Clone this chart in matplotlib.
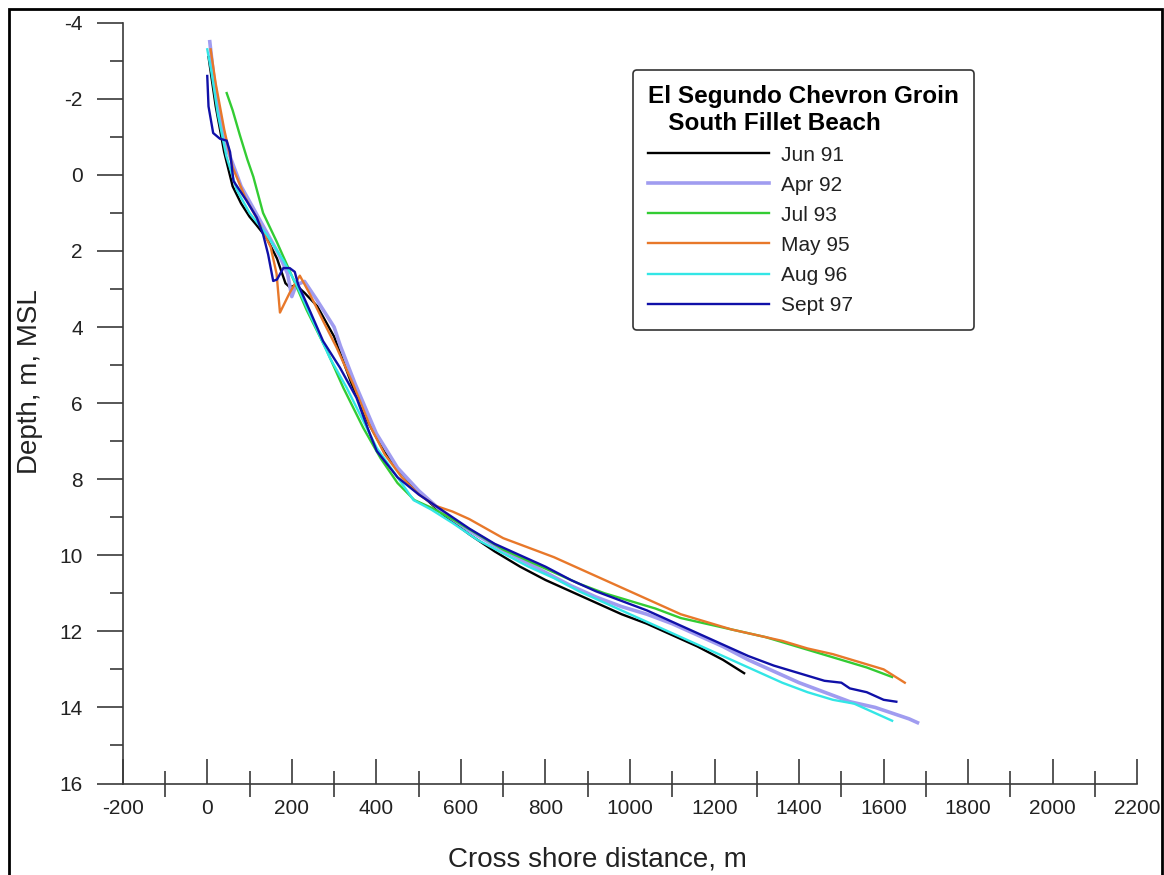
import numpy as np
import matplotlib
matplotlib.use("Agg")
import matplotlib.pyplot as plt
from matplotlib.patches import Rectangle
from matplotlib.ticker import MultipleLocator

plt.rcParams['font.family'] = ['Liberation Sans', 'DejaVu Sans']
plt.rcParams['axes.unicode_minus'] = False

# survey profiles: cross shore distance (m) and depth (m, MSL)
jun91_x = [3, 20, 40, 60, 80, 100, 115, 140, 165, 185, 195, 210, 230, 260, 300, 340, 380, 420, 460, 500,
           560, 620, 680, 740, 800, 860, 920, 980, 1040, 1100, 1160, 1220, 1270]
jun91_y = [-3.1, -1.8, -0.6, 0.3, 0.75, 1.1, 1.3, 1.65, 2.2, 2.85, 2.95, 2.9, 3.1, 3.45, 4.25, 5.45, 6.5, 7.3, 7.85, 8.35,
           8.95, 9.45, 9.9, 10.3, 10.65, 10.95, 11.25, 11.55, 11.8, 12.1, 12.4, 12.75, 13.1]

apr92_x = [6, 15, 30, 50, 80, 110, 140, 170, 190, 200, 210, 230, 260, 300, 315, 350, 400, 450, 500, 560,
           620, 680, 740, 800, 860, 920, 980, 1040, 1100, 1160, 1220, 1280, 1340, 1400, 1460, 1520, 1580,
           1620, 1660, 1680]
apr92_y = [-3.5, -2.6, -1.5, -0.6, 0.3, 0.9, 1.5, 2.1, 2.6, 3.2, 2.9, 2.8, 3.3, 4.0, 4.5, 5.5, 6.8, 7.7, 8.3, 8.9,
           9.35, 9.75, 10.1, 10.45, 10.8, 11.1, 11.35, 11.55, 11.8, 12.1, 12.4, 12.75, 13.05, 13.35, 13.6, 13.85, 14.0,
           14.15, 14.3, 14.4]

jul93_x = [46, 60, 77, 95, 109, 132, 164, 200, 235, 282, 322, 369, 410, 450, 490, 530, 580, 640, 700, 760,
           820, 880, 940, 1000, 1060, 1120, 1160, 1200, 1260, 1320, 1380, 1440, 1500, 1560, 1620]
jul93_y = [-2.15, -1.7, -1.05, -0.4, 0.05, 1.0, 1.75, 2.65, 3.55, 4.6, 5.6, 6.65, 7.45, 8.1, 8.55, 8.75, 9.05, 9.45, 9.85, 10.15,
           10.45, 10.75, 11.0, 11.2, 11.4, 11.65, 11.75, 11.85, 12.0, 12.15, 12.35, 12.55, 12.75, 12.95, 13.2]

may95_x = [8, 20, 40, 60, 90, 120, 150, 164, 172, 195, 219, 243, 274, 306, 345, 385, 420, 460, 500, 540,
           580, 620, 660, 700, 760, 820, 880, 940, 1000, 1060, 1120, 1180, 1240, 1300, 1360, 1420, 1480, 1540,
           1600, 1650]
may95_y = [-3.3, -2.4, -1.2, -0.2, 0.6, 1.2, 1.9, 2.6, 3.62, 3.1, 2.65, 3.14, 3.84, 4.54, 5.5, 6.6, 7.35, 7.95, 8.4, 8.7,
           8.85, 9.05, 9.3, 9.55, 9.8, 10.05, 10.35, 10.65, 10.95, 11.25, 11.55, 11.75, 11.95, 12.1, 12.25, 12.45, 12.6, 12.8,
           13.0, 13.35]

aug96_x = [0, 10, 25, 45, 70, 100, 140, 180, 211, 243, 290, 330, 369, 401, 450, 488, 530, 580, 640, 700,
           760, 820, 880, 940, 1000, 1060, 1120, 1180, 1240, 1300, 1360, 1420, 1480, 1530, 1580, 1620]
aug96_y = [-3.3, -2.7, -1.6, -0.5, 0.4, 1.0, 1.56, 2.25, 2.88, 3.67, 4.81, 5.6, 6.47, 7.18, 7.95, 8.55, 8.8, 9.15, 9.6, 9.95,
           10.3, 10.6, 10.95, 11.25, 11.55, 11.85, 12.15, 12.45, 12.75, 13.05, 13.35, 13.6, 13.8, 13.9, 14.15, 14.35]

sep97_x = [0, 3, 14, 30, 46, 54, 62, 93, 117, 132, 144, 156, 165, 180, 195, 207, 215, 243, 274, 314,
           353, 385, 401, 450, 500, 560, 620, 680, 740, 800, 860, 920, 980, 1040, 1100, 1160, 1220, 1280,
           1340, 1400, 1460, 1500, 1520, 1560, 1600, 1630]
sep97_y = [-2.6, -1.8, -1.1, -0.95, -0.9, -0.6, 0.16, 0.68, 1.12, 1.56, 2.09, 2.79, 2.75, 2.45, 2.45, 2.55, 2.88, 3.58, 4.37, 5.07,
           5.86, 6.82, 7.26, 7.95, 8.4, 8.85, 9.3, 9.7, 10.0, 10.3, 10.65, 10.95, 11.2, 11.45, 11.75, 12.05, 12.35, 12.65,
           12.9, 13.1, 13.3, 13.35, 13.5, 13.6, 13.8, 13.85]

labels = ['Jun 91', 'Apr 92', 'Jul 93', 'May 95', 'Aug 96', 'Sept 97']
colors = ['#000000', '#a09cf0', '#33cc33', '#e8782a', '#33e6e6', '#1010a8']
widths = [1.7, 2.6, 1.7, 1.7, 1.7, 1.7]
xs = [jun91_x, apr92_x, jul93_x, may95_x, aug96_x, sep97_x]
ys = [jun91_y, apr92_y, jul93_y, may95_y, aug96_y, sep97_y]
draw_order = [1, 4, 2, 3, 0, 5]

W, H = 1164, 875
fig = plt.figure(figsize=(W / 100, H / 100), dpi=100)
ax = fig.add_axes([122.7 / W, 1 - 783.5 / H, (1137.3 - 122.7) / W, (783.5 - 22.7) / H])

handles = [None] * 6
for i in draw_order:
    ln, = ax.plot(xs[i], ys[i], color=colors[i], lw=widths[i], label=labels[i], zorder=2 + i * 0.1)
    handles[i] = ln

ax.set_xlim(-200, 2200)
ax.set_ylim(16, -4)
ax.xaxis.set_major_locator(MultipleLocator(200))
ax.xaxis.set_minor_locator(MultipleLocator(100))
ax.yaxis.set_major_locator(MultipleLocator(2))
ax.yaxis.set_minor_locator(MultipleLocator(1))

axc = '#3a3a3a'
for s in ['top', 'right']:
    ax.spines[s].set_visible(False)
for s in ['left', 'bottom']:
    ax.spines[s].set_color(axc)
    ax.spines[s].set_linewidth(1.2)

ax.tick_params(axis='y', which='major', direction='out', length=18.7, width=1.2, color=axc,
               labelsize=15, pad=10, labelcolor='#222222')
ax.tick_params(axis='y', which='minor', direction='out', length=9.4, width=1.2, color=axc)
ax.tick_params(axis='x', which='major', direction='in', length=18, width=1.2, color=axc,
               labelsize=15, pad=11, labelcolor='#222222')
ax.tick_params(axis='x', which='minor', direction='inout', length=18.7, width=1.2, color=axc)

fig.text(597 / W, 1 - 860 / H, 'Cross shore distance, m', fontsize=20, ha='center', va='center', color='#222222')
fig.text(30 / W, 1 - 382 / H, 'Depth, m, MSL', fontsize=20, rotation=90, ha='center', va='center', color='#222222')

leg = ax.legend(handles, labels, loc='upper left', bbox_to_anchor=(633 / W, 1 - 70 / H),
                bbox_transform=fig.transFigure, borderaxespad=0,
                title='El Segundo Chevron Groin\n   South Fillet Beach',
                title_fontproperties={'weight': 'bold', 'size': 17.5},
                fontsize=15, handlelength=5.8, handletextpad=0.6, labelspacing=0.53,
                borderpad=0.72, fancybox=True, framealpha=1, edgecolor='#333333', alignment='left')
leg.get_frame().set_linewidth(1.2)
for t in leg.get_texts():
    t.set_color('#222222')

fig.add_artist(Rectangle((8.5 / W, -0.05), (1162 - 8.5) / W, 1 - 9 / H + 0.05, transform=fig.transFigure,
                         fill=False, edgecolor='black', lw=2, clip_on=False))

fig.savefig('out.png', dpi=100)
